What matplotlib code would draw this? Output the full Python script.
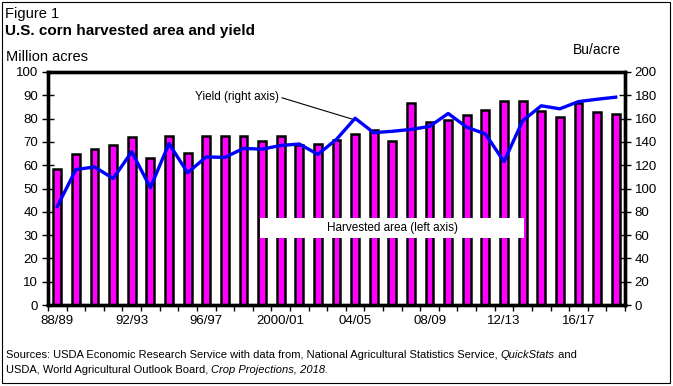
import numpy as np
import matplotlib.pyplot as plt
from matplotlib.patches import Rectangle

plt.rcParams["font.family"] = ["Liberation Sans", "DejaVu Sans"]

# Data (marketing years 1988/89 - 2018/19)
years = list(range(1988, 2019))
area = [58.3, 64.7, 67.0, 68.8, 72.1, 62.9, 72.5, 65.2, 72.6, 72.7,
        72.6, 70.5, 72.4, 68.8, 69.3, 71.0, 73.6, 75.1, 70.6, 86.5,
        78.6, 79.5, 81.4, 83.9, 87.4, 87.5, 83.1, 80.8, 86.7, 82.7, 81.8]
yld = [84.6, 116.3, 118.5, 108.6, 131.5, 100.7, 138.6, 113.5, 127.1, 126.7,
       134.4, 133.8, 136.9, 138.2, 129.3, 142.2, 160.3, 147.9, 149.1, 150.7,
       153.3, 164.4, 152.6, 146.8, 123.1, 158.1, 171.0, 168.4, 174.6, 176.6, 178.4]
tick_labels = ["88/89", "92/93", "96/97", "2000/01", "04/05", "08/09", "12/13", "16/17"]

x = np.arange(len(years))

fig = plt.figure(figsize=(6.73, 3.86), dpi=100)
ax = fig.add_axes([48 / 673, 1 - 305 / 386, 577 / 673, 233 / 386])
ax2 = ax.twinx()

# bars on left axis
ax.bar(x, area, width=0.42, color="#FF00FF", edgecolor="black", linewidth=1.8, zorder=2)
ax.set_xlim(-0.5, len(years) - 0.5)
ax.set_ylim(0, 100)
ax.set_yticks(np.arange(0, 101, 10))

# yield line on right axis
ax2.plot(x, yld, color="#0000FF", linewidth=2.4, zorder=3)
ax2.set_ylim(0, 200)
ax2.set_yticks(np.arange(0, 201, 20))

# x ticks: labels every 4 years, small ticks between bars
ax.set_xticks(x[::4])
ax.set_xticklabels(tick_labels)
ax.set_xticks(np.arange(-0.5, len(years), 1), minor=True)
ax.tick_params(axis="x", which="major", length=0, labelsize=9.5, pad=7)
ax.tick_params(axis="x", which="minor", length=4, width=1, direction="out")
ax.tick_params(axis="y", length=8, width=1, direction="inout", labelsize=9.5, pad=3)
ax2.tick_params(axis="y", length=8, width=1, direction="inout", labelsize=9.5, pad=3)

for a in (ax, ax2):
    for s in a.spines.values():
        s.set_linewidth(2.4)

# labels in the plot
ax.annotate("Yield (right axis)", xy=(16.0, 79.4), xytext=(9.66, 89.3),
            fontsize=8.5, ha="center", va="center",
            arrowprops=dict(arrowstyle="-", color="black", lw=0.8,
                            shrinkA=0, shrinkB=0, relpos=(1.0, 0.5)), zorder=5)
ax.add_patch(Rectangle((10.9, 28.8), 14.2, 8.5, facecolor="white", edgecolor="none", zorder=4))
ax.text(18.0, 33.0, "Harvested area (left axis)", fontsize=8.5, ha="center", va="center", zorder=5)

# titles and notes
fig.text(5 / 673, 1 - 14 / 386, "Figure 1", fontsize=10.5, va="center", ha="left")
fig.text(5 / 673, 1 - 31 / 386, "U.S. corn harvested area and yield", fontsize=11,
         fontweight="bold", va="center", ha="left")
fig.text(6 / 673, 1 - 57 / 386, "Million acres", fontsize=10.5, va="center", ha="left")
fig.text(573 / 673, 1 - 50 / 386, "Bu/acre", fontsize=10, va="center", ha="left")


def rich_line(pieces, x0, y0, size=8):
    # pieces: list of (text, style); placed one after another
    renderer = fig.canvas.get_renderer()
    xpix = x0
    for txt, style in pieces:
        t = fig.text(xpix / 673, 1 - y0 / 386, txt, fontsize=size, style=style,
                     va="center", ha="left")
        xpix += t.get_window_extent(renderer).width


rich_line([("Sources: USDA Economic Research Service with data from, National Agricultural "
            "Statistics Service, ", "normal"), ("QuickStats", "italic"), (" and", "normal")], 6, 355)
rich_line([("USDA, World Agricultural Outlook Board, ", "normal"),
           ("Crop Projections, 2018.", "italic")], 6, 370)

# outer frame
fig.patches.append(Rectangle((2 / 673, 3 / 386), 668 / 673, 381 / 386, transform=fig.transFigure,
                             fill=False, edgecolor="black", linewidth=0.8))

fig.savefig("out.png", dpi=100)
